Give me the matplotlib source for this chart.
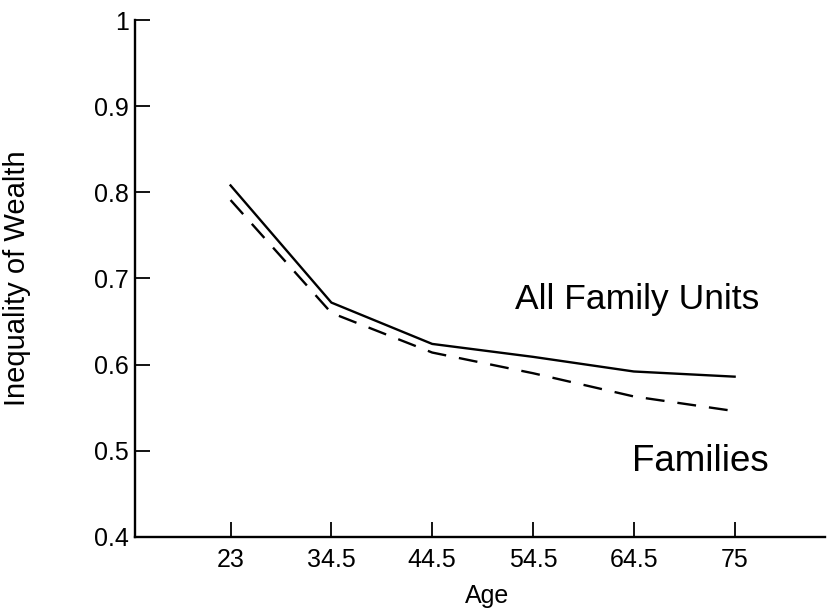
import matplotlib.pyplot as plt

plt.rcParams['font.family'] = ['Liberation Sans', 'DejaVu Sans']

ages = ["23", "34.5", "44.5", "54.5", "64.5", "75"]
all_units = [0.808, 0.672, 0.624, 0.609, 0.592, 0.586]
families = [0.791, 0.660, 0.614, 0.590, 0.563, 0.546]

fig = plt.figure(figsize=(8.27, 6.08), dpi=100)
ax = fig.add_axes([0.163, 0.117, 0.835, 0.85])

pos = list(range(len(ages)))
ax.plot(pos, all_units, color='black', lw=1.7)
ax.plot(pos, families, color='black', lw=1.7, dashes=(8, 5.5))

ax.set_xlim(-0.95, 5.9)
ax.set_ylim(0.4, 1.0)
ax.set_xticks(pos)
ax.set_xticklabels(ages)
ax.set_yticks([0.4, 0.5, 0.6, 0.7, 0.8, 0.9, 1.0])
ax.set_yticklabels(["0.4", "0.5", "0.6", "0.7", "0.8", "0.9", "1"])

for s in ['top', 'right']:
	ax.spines[s].set_visible(False)
for s in ['left', 'bottom']:
	ax.spines[s].set_linewidth(1.7)
ax.tick_params(axis='both', direction='in', length=11, width=1.3, labelsize=18)
ax.tick_params(axis='x', pad=8)
ax.tick_params(axis='y', pad=4)

ax.set_xlabel("Age", fontsize=18)
ax.xaxis.set_label_coords(0.51, -0.092)
ax.set_ylabel("Inequality of Wealth", fontsize=21)
ax.yaxis.set_label_coords(-0.15, 0.5)

ax.text(2.82, 0.675, "All Family Units", fontsize=25.5, va='center', ha='left')
ax.text(3.98, 0.488, "Families", fontsize=26.5, va='center', ha='left')

fig.savefig("out.png", dpi=100)
